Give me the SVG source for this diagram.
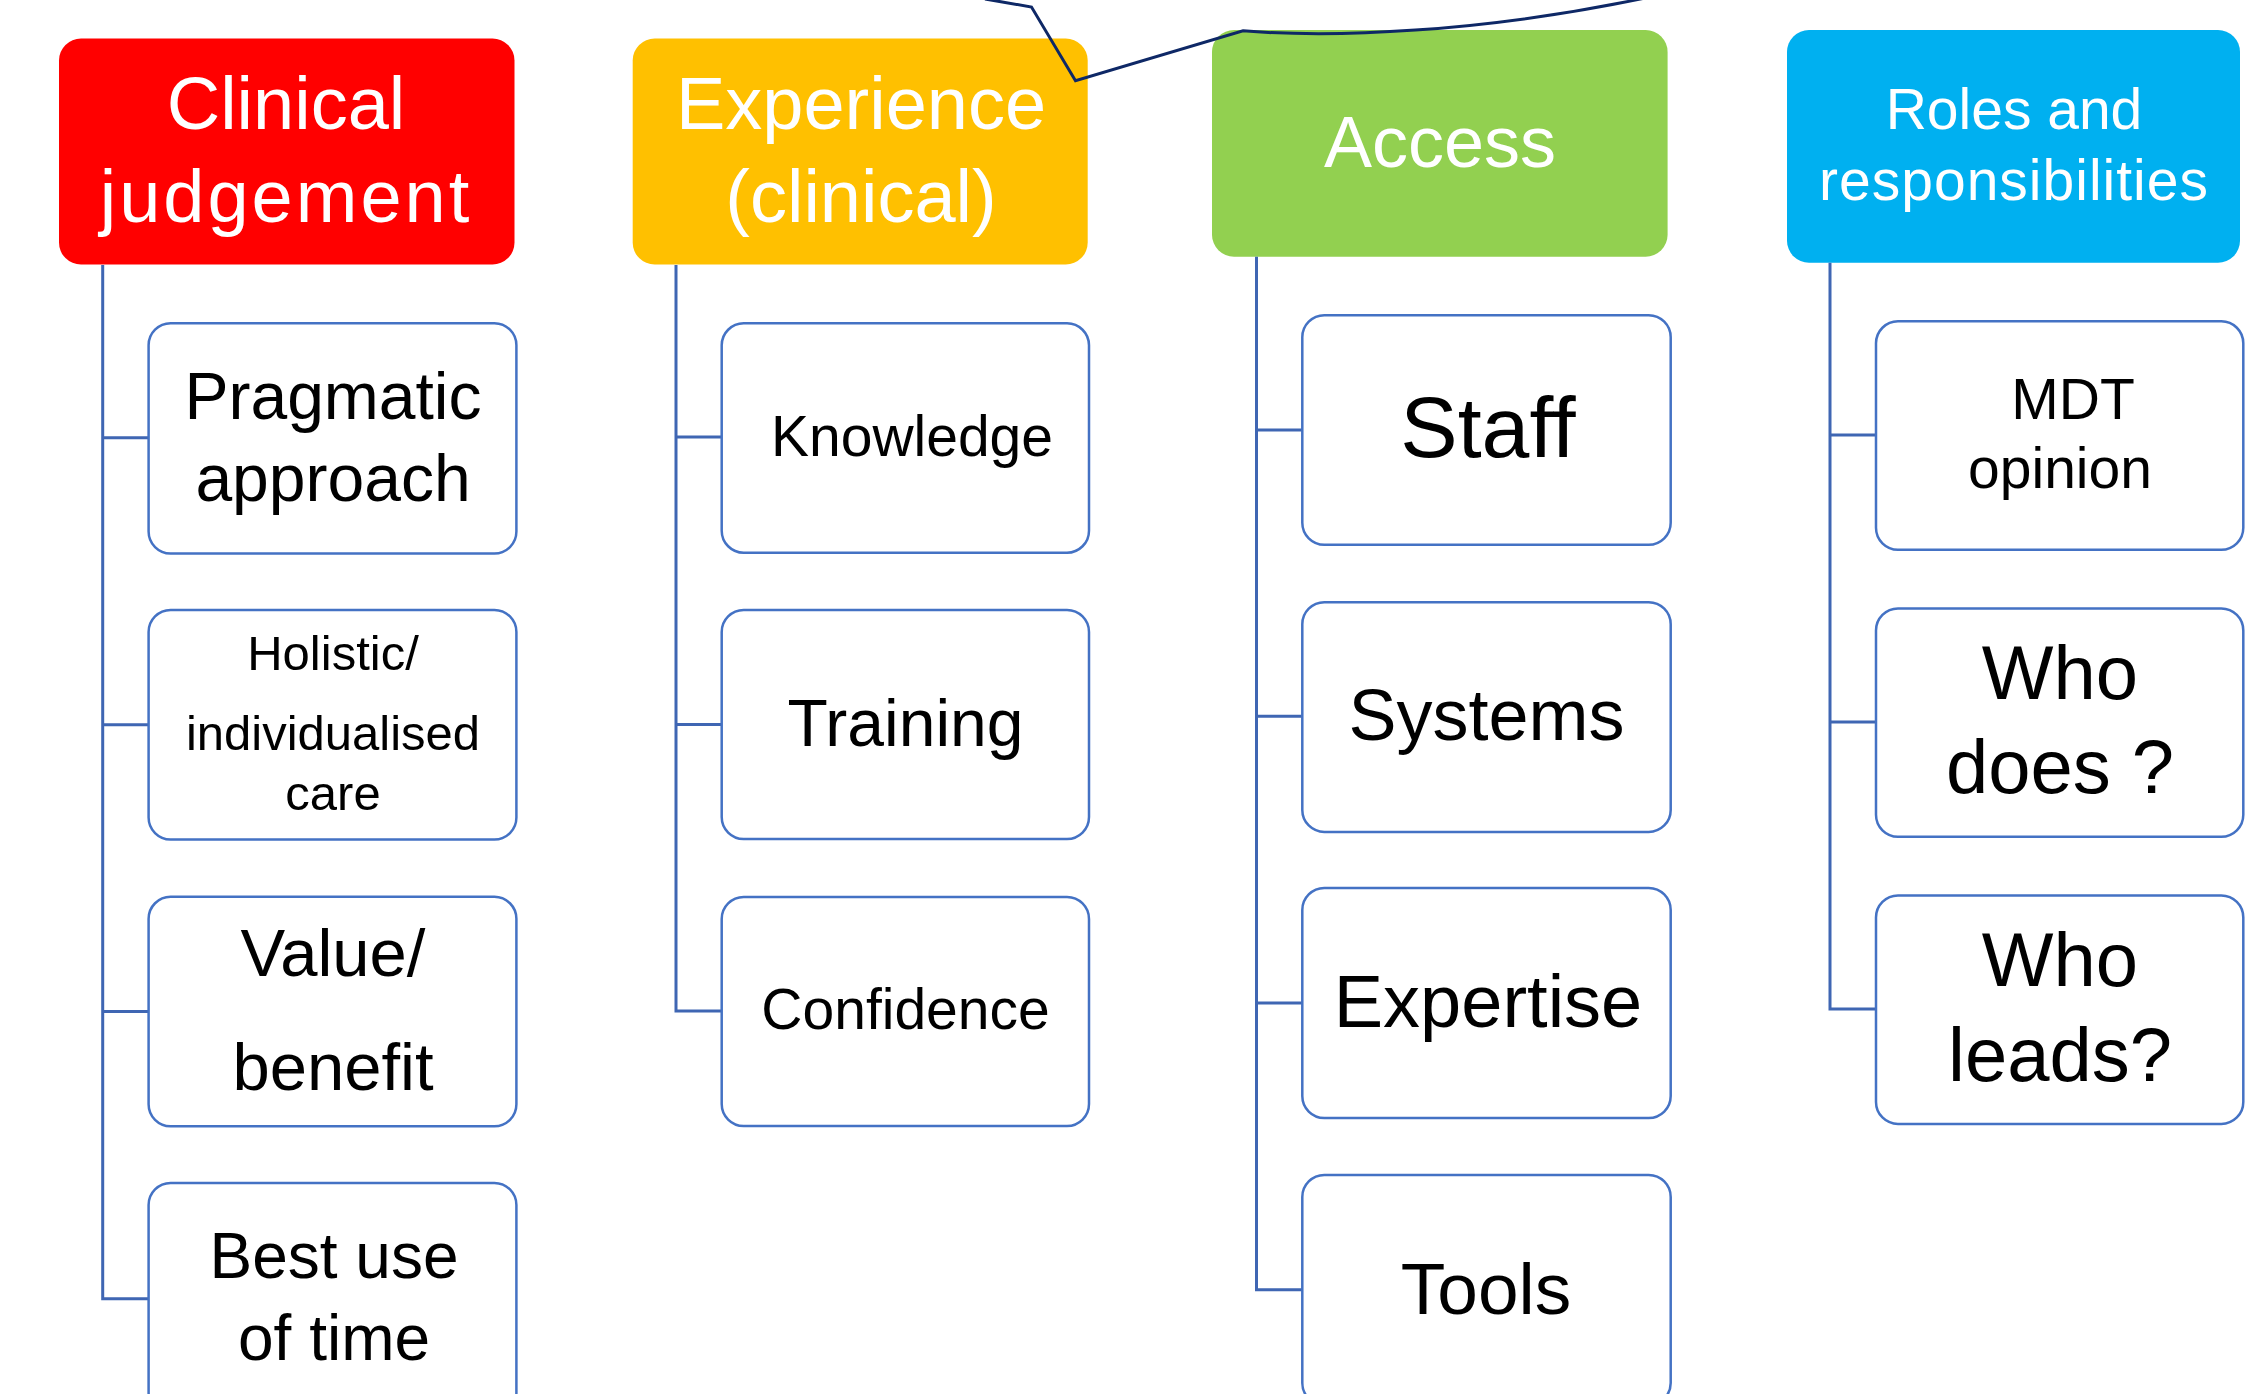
<svg xmlns="http://www.w3.org/2000/svg" width="2268" height="1394" viewBox="0 0 2268 1394">
  <style>
    .head { stroke: none; }
    .head text { fill: #FFFFFF; font-family: "Liberation Sans", Arial, sans-serif; text-anchor: middle; }
    .item rect { fill: #FFFFFF; stroke: #4472C4; stroke-width: 2.5; }
    .item text { fill: #000000; font-family: "Liberation Sans", Arial, sans-serif; text-anchor: middle; }
    .tree { fill: none; stroke: #3F66B3; stroke-width: 3; }
    .link { fill: none; stroke: #0E2866; stroke-width: 3; stroke-linejoin: miter; }
  </style>
  <rect width="2268" height="1394" fill="#FFFFFF"/>

  <!-- Category headers -->
  <g id="clinical-judgement" class="head">
    <rect x="59" y="38.5" width="455.5" height="226" rx="22" fill="#FF0000"/>
    <text x="286" y="129" font-size="74">Clinical</text>
    <text x="286" y="222" font-size="74" letter-spacing="3">judgement</text>
  </g>
  <g id="experience-clinical" class="head">
    <rect x="632.7" y="38.5" width="455" height="226" rx="22" fill="#FFC000"/>
    <text x="861" y="129" font-size="74">Experience</text>
    <text x="861" y="222" font-size="74">(clinical)</text>
  </g>
  <g id="access" class="head">
    <rect x="1212" y="30" width="455.6" height="226.7" rx="22" fill="#92D050"/>
    <text x="1440" y="166.7" font-size="72">Access</text>
  </g>
  <g id="roles-and-responsibilities" class="head">
    <rect x="1787" y="30" width="453" height="232.7" rx="22" fill="#00B0F0"/>
    <text x="2014" y="129" font-size="57">Roles and</text>
    <text x="2014" y="200" font-size="57" letter-spacing="1">responsibilities</text>
  </g>

  <!-- Tree connectors from each header to its items -->
  <g id="connectors">
    <path class="tree" d="M102.7,265 V1298.7 H148.6 M102.7,437.7 H148.6 M102.7,724.7 H148.6 M102.7,1011.6 H148.6"/>
    <path class="tree" d="M676,265 V1011 H721.7 M676,437 H721.7 M676,724.5 H721.7"/>
    <path class="tree" d="M1256.5,256.7 V1289.7 H1302.3 M1256.5,430 H1302.3 M1256.5,716.3 H1302.3 M1256.5,1003 H1302.3"/>
    <path class="tree" d="M1830,262.7 V1009 H1876 M1830,435 H1876 M1830,722 H1876"/>
    <path class="link" d="M985,-1 L1031.5,7 L1075.5,80.7 L1243,30.8 C1330,38 1480,33 1650,-3"/>
  </g>

  <!-- Clinical judgement items -->
  <g id="pragmatic-approach" class="item">
    <rect x="148.6" y="323.2" width="367.8" height="230.4" rx="22"/>
    <text x="333" y="418.5" font-size="66">Pragmatic</text>
    <text x="333" y="501" font-size="66">approach</text>
  </g>
  <g id="holistic-care" class="item">
    <rect x="148.6" y="609.9" width="367.8" height="229.6" rx="22"/>
    <text x="333" y="670" font-size="49">Holistic/</text>
    <text x="333" y="750" font-size="49">individualised</text>
    <text x="333" y="810" font-size="49">care</text>
  </g>
  <g id="value-benefit" class="item">
    <rect x="148.6" y="896.8" width="367.8" height="229.5" rx="22"/>
    <text x="333" y="976" font-size="67">Value/</text>
    <text x="333" y="1090" font-size="67">benefit</text>
  </g>
  <g id="best-use-of-time" class="item">
    <rect x="148.6" y="1182.9" width="367.8" height="231.6" rx="22"/>
    <text x="334" y="1278" font-size="64">Best use</text>
    <text x="334" y="1360" font-size="64">of time</text>
  </g>

  <!-- Experience items -->
  <g id="knowledge" class="item">
    <rect x="721.7" y="323.3" width="367.3" height="229.4" rx="22"/>
    <text x="912" y="456" font-size="57">Knowledge</text>
  </g>
  <g id="training" class="item">
    <rect x="721.7" y="610" width="367.3" height="229" rx="22"/>
    <text x="905.5" y="746" font-size="66">Training</text>
  </g>
  <g id="confidence" class="item">
    <rect x="721.7" y="897" width="367.3" height="229" rx="22"/>
    <text x="905.5" y="1029" font-size="57">Confidence</text>
  </g>

  <!-- Access items -->
  <g id="staff" class="item">
    <rect x="1302.3" y="315.2" width="368.4" height="229.6" rx="22"/>
    <text x="1488" y="457" font-size="86">Staff</text>
  </g>
  <g id="systems" class="item">
    <rect x="1302.3" y="602.2" width="368.4" height="229.7" rx="22"/>
    <text x="1486.5" y="740" font-size="72">Systems</text>
  </g>
  <g id="expertise" class="item">
    <rect x="1302.3" y="888" width="368.4" height="230" rx="22"/>
    <text x="1488" y="1027" font-size="74">Expertise</text>
  </g>
  <g id="tools" class="item">
    <rect x="1302.3" y="1175" width="368.4" height="230" rx="22"/>
    <text x="1486" y="1314" font-size="73">Tools</text>
  </g>

  <!-- Roles and responsibilities items -->
  <g id="mdt-opinion" class="item">
    <rect x="1876" y="321.3" width="367.3" height="228.5" rx="22"/>
    <text x="2073" y="419" font-size="57">MDT</text>
    <text x="2060" y="488" font-size="57">opinion</text>
  </g>
  <g id="who-does" class="item">
    <rect x="1876" y="608.4" width="367.3" height="228.4" rx="22"/>
    <text x="2060" y="699" font-size="76">Who</text>
    <text x="2060" y="792.6" font-size="76">does ?</text>
  </g>
  <g id="who-leads" class="item">
    <rect x="1876" y="895.4" width="367.3" height="228.5" rx="22"/>
    <text x="2060" y="986" font-size="76">Who</text>
    <text x="2060" y="1081" font-size="76">leads?</text>
  </g>
</svg>
